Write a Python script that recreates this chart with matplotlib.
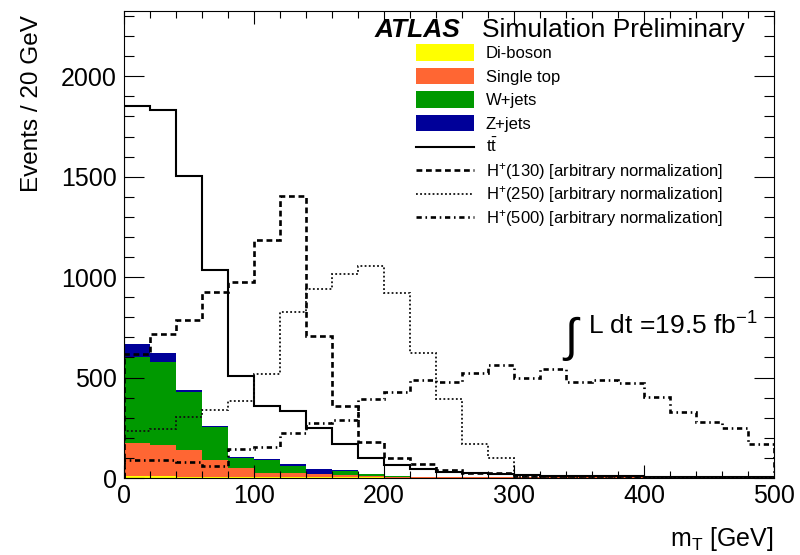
import matplotlib
matplotlib.use("Agg")
import matplotlib.pyplot as plt
import numpy as np
from matplotlib.patches import Rectangle
from matplotlib.ticker import MultipleLocator

plt.rcParams["font.family"] = ["Liberation Sans", "DejaVu Sans"]
plt.rcParams["mathtext.fontset"] = "custom"
plt.rcParams["mathtext.rm"] = "Liberation Sans"
plt.rcParams["mathtext.it"] = "Liberation Sans:italic"
plt.rcParams["mathtext.bf"] = "Liberation Sans:bold"

# 20 GeV bins in transverse mass
bin_edges = np.arange(0, 520, 20)

# stacked backgrounds, bottom to top
diboson = [8, 8, 3, 3, 3, 3, 3, 3, 3, 3, 2, 2, 2, 2, 2, 2, 2, 2, 2, 2, 2, 2, 2, 2, 2]
single_top = [165, 155, 134, 87, 49, 20, 20, 15, 13, 9, 5, 3, 2, 2, 2, 1, 1, 1, 1, 1, 1, 1, 1, 1, 1]
w_jets = [430, 413, 291, 166, 48, 66, 38, 4, 21, 6, 2, 1, 0, 0, 0, 0, 0, 0, 0, 0, 0, 0, 0, 0, 0]
z_jets = [66, 45, 8, 2, 5, 8, 8, 21, 2, 1, 0, 0, 0, 0, 0, 0, 0, 0, 0, 0, 0, 0, 0, 0, 0]

# overlaid distributions
ttbar = [1850, 1832, 1505, 1035, 510, 357, 332, 249, 168, 102, 66, 44, 32, 23, 21, 14, 12, 10, 9, 8, 7, 6, 5, 4, 3]
hplus_130 = [615, 716, 788, 927, 977, 1183, 1403, 706, 360, 181, 102, 72, 42, 23, 27, 12, 10, 9, 8, 7, 6, 6, 5, 5, 4]
hplus_250 = [234, 246, 302, 339, 382, 520, 824, 943, 1014, 1054, 923, 620, 391, 169, 102, 3, 2, 2, 1, 1, 1, 1, 1, 1, 1]
hplus_500 = [90, 90, 82, 60, 145, 156, 222, 272, 291, 393, 430, 486, 476, 525, 565, 499, 542, 476, 487, 474, 405, 330, 280, 247, 169]

bkg_names = ["Di-boson", "Single top", "W+jets", "Z+jets"]
bkg_colors = ["#ffff00", "#ff6633", "#009900", "#000099"]

line_names = [r"t$\bar{\mathrm{t}}$",
              r"H$^{+}$(130) [arbitrary normalization]",
              r"H$^{+}$(250) [arbitrary normalization]",
              r"H$^{+}$(500) [arbitrary normalization]"]
line_styles = [
    dict(color="black", lw=1.5, linestyle="-"),
    dict(color="black", lw=1.9, linestyle=(0, (2.2, 1.4))),
    dict(color="#111111", lw=1.3, linestyle=(0, (1.0, 1.3))),
    dict(color="black", lw=1.9, linestyle=(0, (2.0, 1.4, 0.6, 1.4))),
]

fig = plt.figure(figsize=(8, 5.55), dpi=100)
ax = fig.add_axes([124 / 800, 1 - 478 / 555, 650 / 800, 467 / 555])

base = np.zeros(len(bin_edges) - 1)
for vals, col in zip([diboson, single_top, w_jets, z_jets], bkg_colors):
    top = base + np.array(vals, dtype=float)
    ax.stairs(top, bin_edges, baseline=base, fill=True, color=col, lw=0)
    base = top

for vals, st in zip([ttbar, hplus_130, hplus_250, hplus_500], line_styles):
    ax.stairs(vals, bin_edges, baseline=0, **st)

ax.set_xlim(0, 500)
ax.set_ylim(0, 2325)

ax.xaxis.set_major_locator(MultipleLocator(100))
ax.xaxis.set_minor_locator(MultipleLocator(20))
ax.yaxis.set_major_locator(MultipleLocator(500))
ax.yaxis.set_minor_locator(MultipleLocator(100))
ax.tick_params(which="both", direction="in", top=True, right=True, width=0.8, labelsize=18)
ax.tick_params(axis="x", which="major", length=9.5, pad=4)
ax.tick_params(axis="x", which="minor", length=4.7)
ax.tick_params(axis="y", which="major", length=14.4, pad=5)
ax.tick_params(axis="y", which="minor", length=7.2)
for sp in ax.spines.values():
    sp.set_linewidth(0.8)

ax.set_xlabel(r"m$_{\mathrm{T}}$ [GeV]", fontsize=18, loc="right", va="baseline")
ax.xaxis.set_label_coords(1.0, -0.1456)
ax.set_ylabel("Events / 20 GeV", fontsize=17.5, loc="top")
ax.yaxis.set_label_coords(-0.125, 0.991)

# ATLAS label
ax.text(0.386, 0.944, "ATLAS", transform=ax.transAxes, fontsize=19,
        fontweight="bold", fontstyle="italic", va="baseline")
ax.text(0.551, 0.944, "Simulation Preliminary", transform=ax.transAxes,
        fontsize=19, va="baseline")

# legend drawn row by row
x0, x1, xt = 416 / 650 - 124 / 650, 474 / 650 - 124 / 650, 486 / 650 - 124 / 650
row_px = [52.5 + 23.5 * i for i in range(8)]
rows = [(n, ("box", c)) for n, c in zip(bkg_names, bkg_colors)] + \
       [(n, ("line", s)) for n, s in zip(line_names, line_styles)]
for (name, (kind, sty)), py in zip(rows, row_px):
    yc = (478 - py) / 467
    if kind == "box":
        ax.add_patch(Rectangle((x0, yc - 8 / 467), x1 - x0, 16 / 467,
                               transform=ax.transAxes, color=sty, lw=0, clip_on=False))
    else:
        ax.plot([x0, x1], [yc, yc], transform=ax.transAxes, clip_on=False, **sty)
    ax.text(xt, (478 - py - 6) / 467, name, transform=ax.transAxes,
            fontsize=12, va="baseline")

# luminosity
ax.text(0.674, 0.298, r"$\int$", transform=ax.transAxes, fontsize=34, va="center",
        family="DejaVu Sans")
ax.text(0.714, 0.306, r"L dt =19.5 fb$^{-1}$", transform=ax.transAxes,
        fontsize=19, va="baseline")

fig.savefig("out.png", dpi=100)
